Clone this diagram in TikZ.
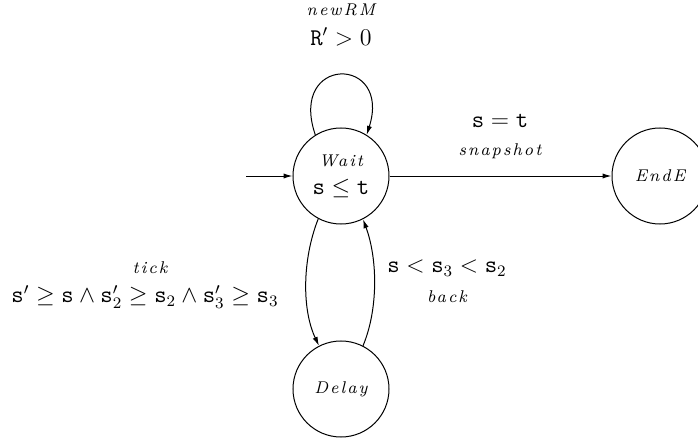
\documentclass[tikz,border=0pt]{standalone}
\usepackage{fontspec}
\usetikzlibrary{arrows.meta}
\newfontfamily\lblfont[LetterSpace=12]{Latin Modern Roman}
\newcommand{\lbl}[1]{{\lblfont\itshape\fontsize{8.5}{10}\selectfont #1}}
\begin{document}
\begin{tikzpicture}[x=0.5pt,y=-0.5pt]
% Styles
\tikzstyle{fleche}=[-{Latex[length=4.5pt,width=2.6pt]},line width=0.5pt]
\tikzstyle{etat}=[draw,circle,line width=0.5pt,minimum size=48pt,inner sep=0pt,align=center]
\tikzstyle{garde}=[font=\large,inner sep=0pt]
\tikzstyle{etiquette}=[inner sep=0pt]
\useasboundingbox (0,0) rectangle (698,439);
% Noeuds
\node[etat] (Wait) at (341,176) {\lbl{Wait}\\[2pt]{\large$\mathtt{s}\le\mathtt{t}$}};
\node[etat] (EndE) at (660,176) {\lbl{EndE}};
\node[etat] (Delay) at (341,389) {\lbl{Delay}};
\coordinate (Debut) at (246,176);
% Etiquettes
\node[etiquette] (newRM) at (341,10) {\lbl{newRM}};
\node[garde] (gnewRM) at (341,37) {$\mathtt{R}'>0$};
\node[garde] (gsnap) at (500,121) {$\mathtt{s}=\mathtt{t}$};
\node[etiquette] (snap) at (500,151) {\lbl{snapshot}};
\node[etiquette] (tick) at (150,268) {\lbl{tick}};
\node[garde] (gtick) at (145,297) {$\mathtt{s}'\ge\mathtt{s}\wedge\mathtt{s}_2'\ge\mathtt{s}_2\wedge\mathtt{s}_3'\ge\mathtt{s}_3$};
\node[garde] (gback) at (447,268) {$\mathtt{s}<\mathtt{s}_3<\mathtt{s}_2$};
\node[etiquette] (back) at (447,297) {\lbl{back}};
% Arcs
\draw[fleche] (Debut)--(Wait.west);
\draw[fleche] (Wait.122) .. controls (288,55) and (392,55) .. (Wait.58);
\draw[fleche] (Wait.east)--(EndE.west);
\draw[fleche] (Wait.242) .. controls (302,260) and (302,310) .. (Delay.117);
\draw[fleche] (Delay.63) .. controls (378,310) and (378,260) .. (Wait.297);
\end{tikzpicture}
\end{document}
